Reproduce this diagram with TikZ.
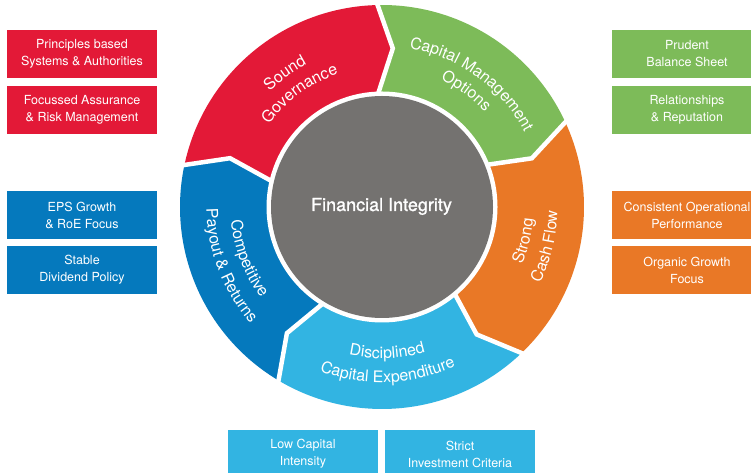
\documentclass[tikz,border=0pt]{standalone}
\usepackage{fontspec}
\setmainfont{TeX Gyre Heros}
\usetikzlibrary{decorations.text}
\definecolor{cred}{HTML}{E31937}
\definecolor{cgreen}{HTML}{7DBB59}
\definecolor{corange}{HTML}{E97826}
\definecolor{clblue}{HTML}{32B4E2}
\definecolor{cdblue}{HTML}{0579BD}
\definecolor{cgrey}{HTML}{747270}
\newcommand\lblfont{\fontsize{16pt}{19pt}\selectfont}
\tikzset{
  infobox/.style={minimum width=150pt, minimum height=48pt, inner sep=0pt, align=center, text=white, font=\fontsize{12.5pt}{17pt}\selectfont},
  gapline/.style={draw=white, line width=4.5pt, line join=miter},
  arctext/.style={decorate, decoration={text along path, text align=center, text color=white}},
}
\begin{document}
\begin{tikzpicture}[x=1pt,y=1pt]
\clip (0,0) rectangle (751,473);
\fill[white] (0,0) rectangle (751,473);
% side boxes
\node[infobox, fill=cred] (r1) at (82,419) {Principles based\\Systems \& Authorities};
\node[infobox, fill=cred] (r2) at (82,363) {Focussed Assurance\\\& Risk Management};
\node[infobox, fill=cdblue] (b1) at (82,258) {EPS Growth\\\& RoE Focus};
\node[infobox, fill=cdblue] (b2) at (82,203) {Stable\\Dividend Policy};
\node[infobox, fill=cgreen] (g1) at (687,419) {Prudent\\Balance Sheet};
\node[infobox, fill=cgreen] (g2) at (687,363) {Relationships\\\& Reputation};
\node[infobox, fill=corange] (o1) at (687,258) {Consistent Operational\\Performance};
\node[infobox, fill=corange] (o2) at (687,203) {Organic Growth\\Focus};
\node[infobox, fill=clblue] (l1) at (303,19) {Low Capital\\Intensity};
\node[infobox, fill=clblue] (l2) at (460,19) {Strict\\Investment Criteria};
% ring
\begin{scope}[shift={(382,266)}]
\fill[cred] (168.5:202pt) arc[start angle=168.5,end angle=91.7,radius=202pt] -- (86.1:159pt) -- (92.6:115pt) arc[start angle=92.6,end angle=167.3,radius=115pt] -- (162.2:159.6pt) -- cycle;
\fill[cgreen] (91.7:202pt) arc[start angle=91.7,end angle=25.4,radius=202pt] -- (18.0:157.5pt) -- (22.3:115pt) arc[start angle=22.3,end angle=92.6,radius=115pt] -- (86.1:159pt) -- cycle;
\fill[corange] (25.4:202pt) arc[start angle=25.4,end angle=-45.7,radius=202pt] -- (-53.4:158.7pt) -- (-49.7:115pt) arc[start angle=-49.7,end angle=22.3,radius=115pt] -- (18.0:157.5pt) -- cycle;
\fill[clblue] (-45.7:202pt) arc[start angle=-45.7,end angle=-120.3,radius=202pt] -- (-127:158pt) -- (-120.9:115pt) arc[start angle=-120.9,end angle=-49.7,radius=115pt] -- (-53.4:158.7pt) -- cycle;
\fill[cdblue] (-120.3:202pt) arc[start angle=-120.3,end angle=-191.5,radius=202pt] -- (-197.8:159.6pt) -- (-192.7:115pt) arc[start angle=-192.7,end angle=-120.9,radius=115pt] -- (-127:158pt) -- cycle;
% gaps
\draw[gapline] (92.6:110pt) -- (86.1:159pt) -- (91.7:207pt);
\draw[gapline] (22.3:110pt) -- (18.0:157.5pt) -- (25.4:207pt);
\draw[gapline] (-49.7:110pt) -- (-53.4:158.7pt) -- (-45.7:207pt);
\draw[gapline] (-120.9:110pt) -- (-127:158pt) -- (-120.3:207pt);
\draw[gapline] (167.3:110pt) -- (162.2:159.6pt) -- (168.5:207pt);
% centre
\fill[white] (0,0) circle[radius=115.5pt];
\fill[cgrey] (0,0) circle[radius=111pt];
% arc labels
\path[arctext, decoration={text={|\lblfont|Sound}}] (171:161pt) arc[start angle=171,end angle=81,radius=161pt];
\path[arctext, decoration={text={|\lblfont|Governance}}] (171:140pt) arc[start angle=171,end angle=81,radius=140pt];
\path[arctext, decoration={text={|\lblfont|Capital Management}}] (99:161pt) arc[start angle=99,end angle=9,radius=161pt];
\path[arctext, decoration={text={|\lblfont|Options}}] (99:140pt) arc[start angle=99,end angle=9,radius=140pt];
\path[arctext, decoration={text={|\lblfont|Strong}}] (-58.5:151.5pt) arc[start angle=-58.5,end angle=31.5,radius=151.5pt];
\path[arctext, decoration={text={|\lblfont|Cash Flow}}] (-58.5:175.5pt) arc[start angle=-58.5,end angle=31.5,radius=175.5pt];
\path[arctext, decoration={text={|\lblfont|Disciplined}}] (-133:151.5pt) arc[start angle=-133,end angle=-43,radius=151.5pt];
\path[arctext, decoration={text={|\lblfont|Capital Expenditure}}] (-133:175.5pt) arc[start angle=-133,end angle=-43,radius=175.5pt];
\path[arctext, decoration={text={|\lblfont|Competitive}}] (156:151.5pt) arc[start angle=156,end angle=246,radius=151.5pt];
\path[arctext, decoration={text={|\lblfont|Payout {\&} Returns}}] (156:175.5pt) arc[start angle=156,end angle=246,radius=175.5pt];
\end{scope}
\node[font=\fontsize{18pt}{22pt}\selectfont\addfontfeature{FakeBold=1.2}, text=white, anchor=base] (fi) at (381.5,262) {Financial Integrity};
\end{tikzpicture}
\end{document}
